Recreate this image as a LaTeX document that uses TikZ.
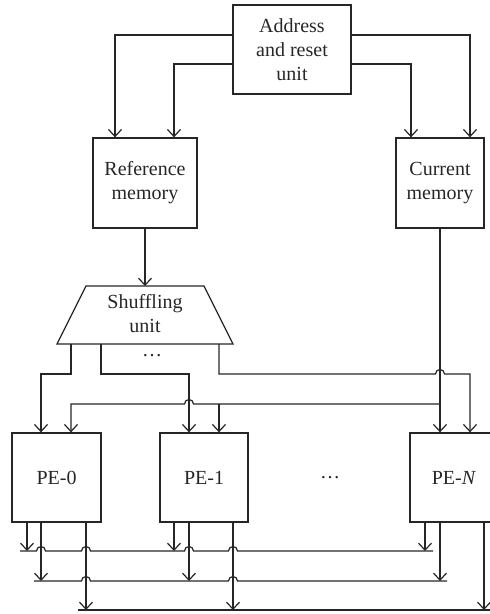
\documentclass[tikz,border=0pt]{standalone}
\usepackage{fontspec}
\setmainfont{Liberation Serif}
\usetikzlibrary{arrows.meta}
\tikzset{
  box/.style={draw=black!85, line width=1.3bp, align=center, inner sep=0pt,
    font=\fontsize{20bp}{24bp}\selectfont, text=black!85},
  lbl/.style={align=center, inner sep=0pt, font=\fontsize{20bp}{24bp}\selectfont, text=black!85},
  wire/.style={draw=black!85, line width=1.2bp},
  arr/.style={wire, -{Straight Barb[length=7bp,width=13bp,line width=1.2bp]}},
}
\begin{document}
\begin{tikzpicture}[x=1bp,y=-1bp]
\useasboundingbox (0,0) rectangle (490,614);
% boxes
\node[box, minimum width=118bp, minimum height=89bp] (addr) at (292,49.5) {Address\\and reset\\unit};
\node[box, minimum width=104bp, minimum height=90bp] (ref) at (145,183) {Reference\\memory};
\node[box, minimum width=88bp, minimum height=90bp] (cur) at (440,183) {Current\\memory};
\draw[wire, line width=1.3bp] (86,286) -- (204,286) -- (233,344) -- (57,344) -- cycle;
\node[lbl] (shuf) at (145,314) {Shuffling\\unit};
\coordinate (shin) at (145,286);
\coordinate (so1) at (71,344);
\coordinate (so2) at (101,344);
\coordinate (so3) at (219,344);
\node[lbl] (shdots) at (152,356) {\ldots};
\node[box, minimum width=89bp, minimum height=89bp] (pe0) at (56.5,477.5) {PE-0};
\node[box, minimum width=88bp, minimum height=89bp] (pe1) at (204,477.5) {PE-1};
\node[box, minimum width=88bp, minimum height=89bp] (peN) at (454,477.5) {PE-\textit{N}};
\node[lbl] (pedots) at (330,478) {\ldots};
% address unit to memories
\draw[arr] (addr.west |- 0,35) -| (ref.north -| 115,0);
\draw[arr] (addr.west |- 0,64) -| (ref.north -| 174,0);
\draw[arr] (addr.east |- 0,35) -| (cur.north -| 470,0);
\draw[arr] (addr.east |- 0,64) -| (cur.north -| 411,0);
% reference memory to shuffling unit
\draw[arr] (ref.south) -- (shin);
% shuffling unit outputs
\draw[arr] (so1) |- (41,374) -- (pe0.north -| 41,0);
\draw[arr] (so2) |- (189,374) -- (pe1.north -| 189,0);
\draw[arr] (so3) -- (219,374) -- (435.5,374) arc[start angle=180,end angle=0,radius=4.5bp] -- (470,374) -- (peN.north -| 470,0);
% current memory
\coordinate (cj) at (440,404);
\draw[arr] (cur.south) -- (cur.south |- peN.north);
\draw[arr] (cj) -- (193.5,404) arc[start angle=0,end angle=180,radius=4.5bp] -- (71,404) -- (pe0.north -| 71,0);
\draw[arr] (219,404) -- (pe1.north -| 219,0);
% PE outputs
\draw[arr] (pe0.south -| 27,0) -- (27,551);
\draw[arr] (pe0.south -| 41,0) -- (41,581);
\draw[arr] (pe0.south -| 86,0) -- (86,610);
\draw[arr] (pe1.south -| 174,0) -- (174,551);
\draw[arr] (pe1.south -| 189,0) -- (189,581);
\draw[arr] (pe1.south -| 233,0) -- (233,610);
\draw[arr] (peN.south -| 425,0) -- (425,551);
\draw[arr] (peN.south -| 440,0) -- (440,581);
\draw[arr] (peN.south -| 484,0) -- (484,610);
% buses
\draw[wire] (20,551) -- (36.5,551) arc[start angle=180,end angle=0,radius=4.5bp]
  -- (81.5,551) arc[start angle=180,end angle=0,radius=4.5bp]
  -- (184.5,551) arc[start angle=180,end angle=0,radius=4.5bp]
  -- (228.5,551) arc[start angle=180,end angle=0,radius=4.5bp] -- (433,551);
\draw[wire] (34,581) -- (81.5,581) arc[start angle=180,end angle=0,radius=4.5bp]
  -- (228.5,581) arc[start angle=180,end angle=0,radius=4.5bp] -- (447,581);
\draw[wire] (78,610) -- (490,610);
\end{tikzpicture}
\end{document}
